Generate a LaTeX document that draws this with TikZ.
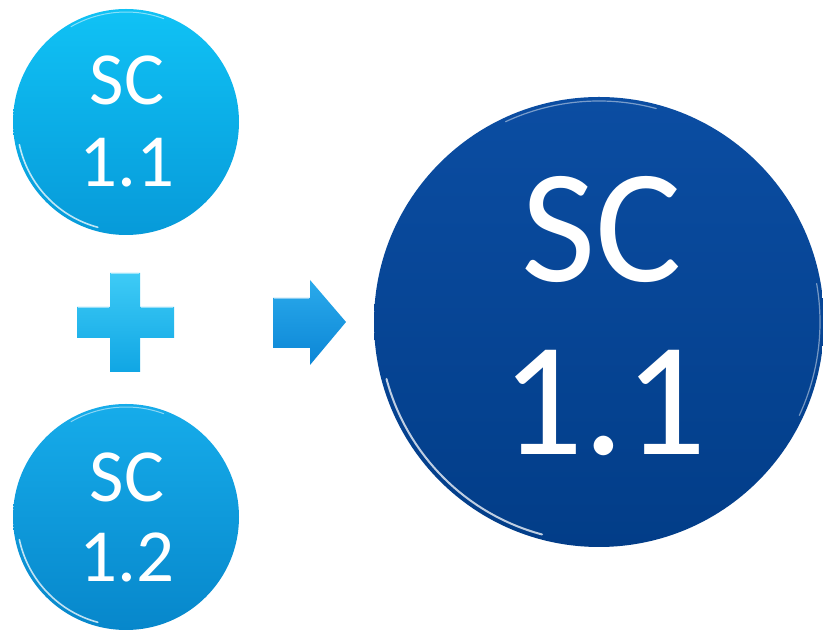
\documentclass[tikz,border=0pt]{standalone}
\usepackage{fontspec}
\setmainfont{Carlito}
\begin{document}
\begin{tikzpicture}[x=1pt,y=1pt,
  smallball/.style={circle, inner sep=0pt, minimum size=226pt, draw=none},
  bigball/.style={circle, inner sep=0pt, minimum size=450pt, draw=none,
    top color=bigtop, bottom color=bigbot},
  smalltxt/.style={anchor=base, text=white, inner sep=0pt, font=\fontsize{75}{85}\selectfont},
  bigtxt/.style={anchor=base, text=white, inner sep=0pt, font=\fontsize{162}{170}\selectfont},
  rim/.style={white, line cap=round, opacity=0.75}]
\definecolor{cyantop}{HTML}{10C2F5}
\definecolor{cyanbot}{HTML}{079AD9}
\definecolor{cyan2top}{HTML}{16ACEA}
\definecolor{cyan2bot}{HTML}{0787CB}
\definecolor{bigtop}{HTML}{0B4DA2}
\definecolor{bigbot}{HTML}{023D88}
\definecolor{plustop}{HTML}{3ECBF6}
\definecolor{plusbot}{HTML}{10A6E4}
\definecolor{arrtop}{HTML}{2AAAEB}
\definecolor{arrbot}{HTML}{0C86D6}
\useasboundingbox (0,0) rectangle (823,631);
\fill[white] (0,0) rectangle (823,631);
% circles
\node[smallball, top color=cyantop, bottom color=cyanbot] (c1) at (126,509) {};
\node[smallball, top color=cyan2top, bottom color=cyan2bot] (c2) at (126,114) {};
\node[bigball] (c3) at (599,309) {};
% rim highlights
\draw[rim, line width=1.6pt] (c1.center) ++(192:109) arc[start angle=192, end angle=255, radius=109];
\draw[rim, line width=1pt, opacity=.5] (c1.center) ++(70:110) arc[start angle=70, end angle=120, radius=110];
\draw[rim, line width=1.6pt] (c2.center) ++(192:109) arc[start angle=192, end angle=255, radius=109];
\draw[rim, line width=1pt, opacity=.5] (c2.center) ++(70:110) arc[start angle=70, end angle=120, radius=110];
\draw[rim, line width=2pt] (c3.center) ++(195:220) arc[start angle=195, end angle=255, radius=220];
\draw[rim, line width=1.2pt, opacity=.45] (c3.center) ++(75:221) arc[start angle=75, end angle=115, radius=221];
\draw[rim, line width=1.2pt, opacity=.45] (c3.center) ++(-25:221) arc[start angle=-25, end angle=10, radius=221];
% texts
\node[smalltxt] (t1a) at (127,526) {SC};
\node[smalltxt] (t1b) at (127,444) {1.1};
\node[smalltxt] (t2a) at (127,129) {SC};
\node[smalltxt] (t2b) at (127,49) {1.2};
\node[bigtxt] (t3a) at (602,349) {SC};
\node[bigtxt] (t3b) at (604,176) {1.1};
% plus sign
\path[top color=plustop, bottom color=plusbot]
  (110,358) -- (140,358) -- (140,324) -- (174,324) -- (174,293) -- (140,293)
  -- (140,259) -- (110,259) -- (110,293) -- (77,293) -- (77,324) -- (110,324) -- cycle;
\draw[white, opacity=.5, line width=1pt] (111,357) -- (139,357);
\draw[white, opacity=.5, line width=1pt] (78,323) -- (109,323);
\draw[white, opacity=.5, line width=1pt] (141,323) -- (173,323);
% arrow
\path[top color=arrtop, bottom color=arrbot]
  (273,333) -- (310,333) -- (310,351) -- (346,309) -- (310,266) -- (310,283) -- (273,283) -- cycle;
\draw[white, opacity=.45, line width=1pt] (274,332) -- (309,332);
\end{tikzpicture}
\end{document}
